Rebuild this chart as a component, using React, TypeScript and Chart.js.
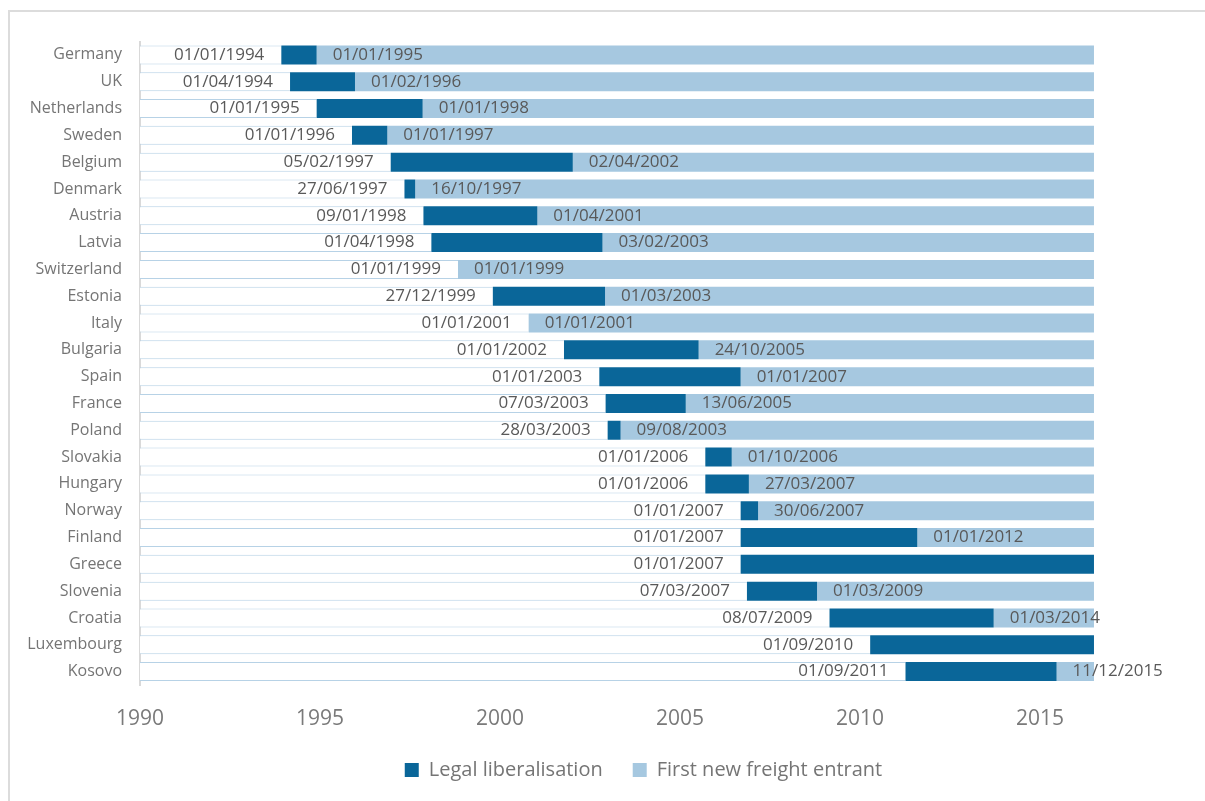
import React, { useEffect, useRef } from 'react';
import { Chart, registerables } from 'chart.js';

Chart.register(...registerables);

const countries = [
  'Germany', 'UK', 'Netherlands', 'Sweden', 'Belgium', 'Denmark', 'Austria', 'Latvia',
  'Switzerland', 'Estonia', 'Italy', 'Bulgaria', 'Spain', 'France', 'Poland', 'Slovakia',
  'Hungary', 'Norway', 'Finland', 'Greece', 'Slovenia', 'Croatia', 'Luxembourg', 'Kosovo',
];

const legalDates = [
  '01/01/1994', '01/04/1994', '01/01/1995', '01/01/1996', '05/02/1997', '27/06/1997', '09/01/1998', '01/04/1998',
  '01/01/1999', '27/12/1999', '01/01/2001', '01/01/2002', '01/01/2003', '07/03/2003', '28/03/2003', '01/01/2006',
  '01/01/2006', '01/01/2007', '01/01/2007', '01/01/2007', '07/03/2007', '08/07/2009', '01/09/2010', '01/09/2011',
];

const entrantDates: (string | null)[] = [
  '01/01/1995', '01/02/1996', '01/01/1998', '01/01/1997', '02/04/2002', '16/10/1997', '01/04/2001', '03/02/2003',
  '01/01/1999', '01/03/2003', '01/01/2001', '24/10/2005', '01/01/2007', '13/06/2005', '09/08/2003', '01/10/2006',
  '27/03/2007', '30/06/2007', '01/01/2012', null, '01/03/2009', '01/03/2014', null, '11/12/2015',
];

const tickLabels = ['1990', '1995', '2000', '2005', '2010', '2015'];
const AXIS_START = 1990;
const AXIS_END = 2022.18;
const TICK_STEP = 5.095;
const TIMELINE_END = 2017;

const DARK = '#0a6699';
const LIGHT = '#a6c8e0';

function toYear(d: string | null): number | null {
  if (!d) return null;
  const [dd, mm, yy] = d.split('/').map(Number);
  const start = Date.UTC(yy, 0, 1);
  const end = Date.UTC(yy + 1, 0, 1);
  return yy + (Date.UTC(yy, mm - 1, dd) - start) / (end - start);
}

const legalYears = legalDates.map((d) => toYear(d) as number);
const entrantYears = entrantDates.map((d) => toYear(d));

export default function App() {
  const ref = useRef<HTMLCanvasElement | null>(null);

  useEffect(() => {
    if (!ref.current) return;
    Chart.defaults.font.family = '"Open Sans", sans-serif';

    const labelPlugin = {
      id: 'dateLabels',
      afterDatasetsDraw(chart: any) {
        const ctx = chart.ctx;
        const xs = chart.scales.x;
        const meta = chart.getDatasetMeta(2);
        ctx.save();
        ctx.font = '17px "Open Sans"';
        ctx.fillStyle = '#595959';
        ctx.textBaseline = 'middle';
        countries.forEach((_, i) => {
          const y = meta.data[i].y;
          ctx.textAlign = 'right';
          ctx.fillText(legalDates[i], xs.getPixelForValue(legalYears[i]) - 17, y);
          const e = entrantYears[i];
          if (e != null) {
            ctx.textAlign = 'left';
            ctx.fillText(entrantDates[i] as string, xs.getPixelForValue(e) + 16, y);
          }
        });
        ctx.restore();
      },
    };

    const chart = new Chart(ref.current, {
      type: 'bar',
      data: {
        labels: countries,
        datasets: [
          {
            label: 'Legal liberalisation',
            data: legalYears.map((l, i) => {
              const e = entrantYears[i] ?? TIMELINE_END;
              return e > l ? [l, e] : null;
            }) as any,
            backgroundColor: DARK,
            borderWidth: 0,
            grouped: false,
          },
          {
            label: 'First new freight entrant',
            data: entrantYears.map((e) => (e == null ? null : [e, TIMELINE_END])) as any,
            backgroundColor: LIGHT,
            borderWidth: 0,
            grouped: false,
          },
          {
            label: 'base',
            data: legalYears.map((l) => [AXIS_START, l]) as any,
            backgroundColor: '#ffffff',
            borderColor: '#b7d2e6',
            borderWidth: { top: 1, bottom: 1, left: 0, right: 0 } as any,
            borderSkipped: false,
            grouped: false,
          },
        ],
      },
      options: {
        indexAxis: 'y',
        animation: false,
        responsive: false,
        layout: { padding: { top: 29.5, right: 33, left: 0, bottom: 11 } },
        datasets: { bar: { barPercentage: 0.71, categoryPercentage: 1 } },
        scales: {
          x: {
            type: 'linear',
            min: AXIS_START,
            max: AXIS_END,
            grid: { display: false, drawTicks: false },
            border: { display: false },
            afterBuildTicks: (scale: any) => {
              scale.ticks = tickLabels.map((_, i) => ({ value: AXIS_START + i * TICK_STEP }));
            },
            afterFit: (scale: any) => {
              scale.height = 45;
            },
            ticks: {
              autoSkip: false,
              maxRotation: 0,
              padding: 21,
              color: '#7a7a7a',
              font: { size: 21 },
              callback: (_v: any, i: number) => tickLabels[i],
            },
          },
          y: {
            type: 'category',
            grid: { display: false, drawTicks: false },
            border: { display: true, color: '#d9d9d9', width: 2 },
            afterFit: (scale: any) => {
              scale.width = 130;
            },
            ticks: {
              padding: 18,
              color: '#757575',
              font: { size: 16 },
              autoSkip: false,
            },
          },
        },
        plugins: {
          tooltip: { enabled: false },
          legend: {
            position: 'bottom',
            labels: {
              boxWidth: 14,
              boxHeight: 14,
              padding: 30,
              color: '#757575',
              font: { size: 20 },
              filter: (item: any) => item.datasetIndex !== 2,
            },
          },
        },
      },
      plugins: [labelPlugin],
    } as any);

    return () => chart.destroy();
  }, []);

  return (
    <div
      style={{
        position: 'fixed',
        left: 8,
        top: 10,
        width: 1400,
        height: 791,
        borderTop: '2px solid #dcdcdc',
        borderLeft: '2px solid #dcdcdc',
        background: '#ffffff',
        overflow: 'hidden',
      }}
    >
      <canvas ref={ref} width={1300} height={789} style={{ display: 'block' }} />
    </div>
  );
}
